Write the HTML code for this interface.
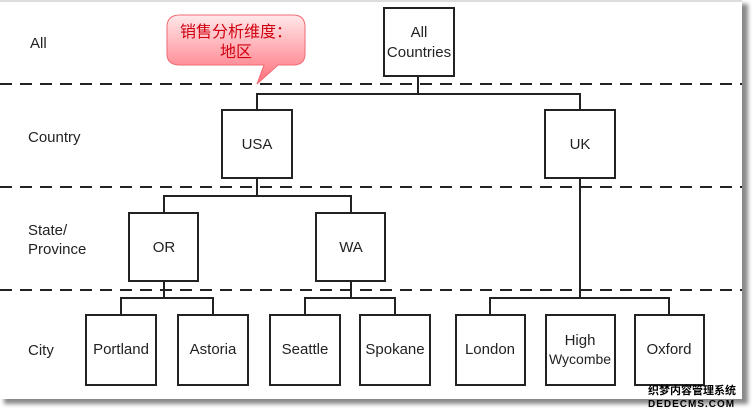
<!DOCTYPE html>
<html><head><meta charset="utf-8"><style>
body{margin:0;width:755px;height:416px;background:#fff;overflow:hidden}
svg{display:block}
text{font-family:"Liberation Sans","Noto Sans CJK SC",sans-serif;font-size:15px;fill:#222}
.b{fill:#fff;stroke:#222;stroke-width:2}
.c{fill:none;stroke:#222;stroke-width:2}
.d{stroke:#222;stroke-width:2;stroke-dasharray:12 8}
</style></head><body>
<svg width="755" height="416" viewBox="0 0 755 416">
<defs>
<linearGradient id="g" x1="0" y1="0" x2="0" y2="1"><stop offset="0" stop-color="#ffe8ea"/><stop offset="1" stop-color="#ff6f7a"/></linearGradient>
<filter id="s"><feGaussianBlur stdDeviation="2"/></filter>
</defs>
<rect x="4" y="4" width="744" height="400" fill="#888" filter="url(#s)"/>
<rect x="0" y="0" width="742" height="399" fill="#fff"/>
<line x1="0" y1="1" x2="742" y2="1" stroke="#bbb"/>
<line class="d" x1="0" y1="84" x2="742" y2="84"/>
<line class="d" x1="0" y1="187" x2="742" y2="187"/>
<line class="d" x1="0" y1="290" x2="742" y2="290"/>
<text x="30" y="48">All</text>
<text x="28" y="142">Country</text>
<text x="28" y="235">State/</text>
<text x="28" y="254">Province</text>
<text x="28" y="355">City</text>
<path d="M180,15 H293 Q305,15 305,27 V54 Q305,65 293,65 H278 L257,84 L264,65 H180 Q167,65 167,54 V27 Q167,15 180,15Z" fill="url(#g)" stroke="#f06a74"/>
<text x="236" y="37" text-anchor="middle" style="fill:#d00010;font-size:16px">销售分析维度：</text>
<text x="236" y="57" text-anchor="middle" style="fill:#d00010;font-size:16px">地区</text>
<path class="c" d="M418,76 V94 M257,110 V94 H580 V110 M257,178 V196 M164,212 V196 H351 V212 M580,178 V298 M490,315 V298 H669 V315 M164,281 V298 M121,315 V298 H213 V315 M351,281 V298 M305,315 V298 H395 V315"/>
<rect class="b" x="384" y="8" width="70" height="68"/>
<rect class="b" x="222" y="110" width="70" height="68"/>
<rect class="b" x="545" y="110" width="70" height="68"/>
<rect class="b" x="129" y="213" width="69" height="68"/>
<rect class="b" x="316" y="213" width="69" height="68"/>
<rect class="b" x="86" y="315" width="70" height="70"/>
<rect class="b" x="178" y="315" width="70" height="70"/>
<rect class="b" x="270" y="315" width="70" height="70"/>
<rect class="b" x="360" y="315" width="70" height="70"/>
<rect class="b" x="456" y="315" width="69" height="70"/>
<rect class="b" x="546" y="315" width="69" height="70"/>
<rect class="b" x="635" y="315" width="69" height="70"/>
<g text-anchor="middle">
<text x="419" y="37">All</text><text x="419" y="57">Countries</text>
<text x="257" y="149">USA</text>
<text x="580" y="149">UK</text>
<text x="164" y="252">OR</text>
<text x="351" y="252">WA</text>
<text x="121" y="354">Portland</text>
<text x="213" y="354">Astoria</text>
<text x="305" y="354">Seattle</text>
<text x="395" y="354">Spokane</text>
<text x="490" y="354">London</text>
<text x="580" y="345">High</text><text x="580" y="364" style="font-size:14px">Wycombe</text>
<text x="669" y="354">Oxford</text>
</g>
<text x="648" y="394" style="font-size:11px;font-weight:bold;fill:#000">织梦内容管理系统</text>
<text x="648" y="407" style="font-size:10px;font-weight:bold;fill:#000;letter-spacing:1px">DEDECMS.COM</text>
</svg>
</body></html>
